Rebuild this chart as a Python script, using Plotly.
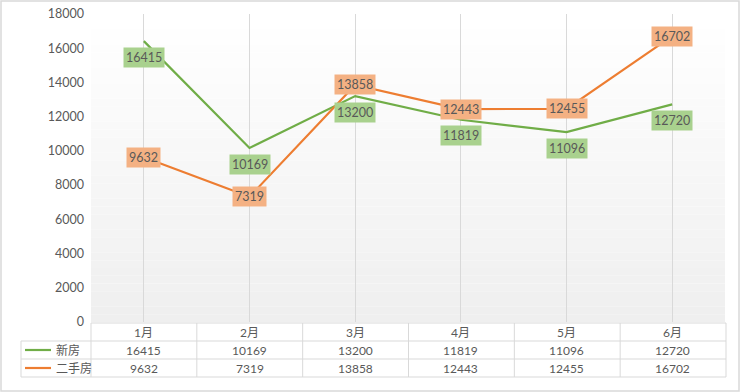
import plotly.graph_objects as go

months = ["1月", "2月", "3月", "4月", "5月", "6月"]
new_house = [16415, 10169, 13200, 11819, 11096, 12720]
second_hand = [9632, 7319, 13858, 12443, 12455, 16702]
series_names = ["新房", "二手房"]
y_ticks = list(range(0, 18001, 2000))

W, H = 740, 392
ML, MR, MT, MB = 91, 15, 14, 70
PW, PH = W - ML - MR, H - MT - MB

def px_x(px):
    return (px - ML) / PW

def px_y(py):
    return (H - MB - py) / PH

FONT = "Lato, 'Noto Sans CJK SC', sans-serif"
TXT = "#595959"
GREEN, ORANGE = "#70AD47", "#ED7D31"
GREEN_BG, ORANGE_BG = "#A9D18E", "#F4B183"
GRID = "#D9D9D9"

fig = go.Figure()
fig.add_trace(go.Scatter(x=months, y=new_house, mode="lines", line=dict(color=GREEN, width=2.2),
                         name=series_names[0], showlegend=False, hoverinfo="skip"))
fig.add_trace(go.Scatter(x=months, y=second_hand, mode="lines", line=dict(color=ORANGE, width=2.2),
                         name=series_names[1], showlegend=False, hoverinfo="skip"))

shapes = []
N = 40
for i in range(N):
    t = i / (N - 1)
    c = int(round(255 - t * (255 - 239)))
    shapes.append(dict(type="rect", xref="paper", yref="paper", x0=0, x1=1,
                       y0=1 - (i + 1) / N, y1=1 - i / N, line=dict(width=0),
                       fillcolor=f"rgb({c},{c},{c})", layer="below"))
shapes.append(dict(type="rect", xref="paper", yref="paper", x0=px_x(1), x1=px_x(739),
                   y0=px_y(391), y1=px_y(1), line=dict(color="#D9D9D9", width=1.5)))

row_lines = [323, 341, 359, 377]
left_px, legend_px, right_px = 21, 91, 726
n = len(months)
shapes.append(dict(type="line", xref="paper", yref="paper", x0=px_x(legend_px), x1=px_x(right_px),
                   y0=px_y(row_lines[0]), y1=px_y(row_lines[0]), line=dict(color=GRID, width=1)))
for r in row_lines[1:]:
    shapes.append(dict(type="line", xref="paper", yref="paper", x0=px_x(left_px), x1=px_x(right_px),
                       y0=px_y(r), y1=px_y(r), line=dict(color=GRID, width=1)))
shapes.append(dict(type="line", xref="paper", yref="paper", x0=px_x(left_px), x1=px_x(left_px),
                   y0=px_y(row_lines[1]), y1=px_y(row_lines[3]), line=dict(color=GRID, width=1)))
for i in range(n + 1):
    xp = px_x(legend_px) + i * (px_x(right_px) - px_x(legend_px)) / n
    shapes.append(dict(type="line", xref="paper", yref="paper", x0=xp, x1=xp,
                       y0=px_y(row_lines[0]), y1=px_y(row_lines[3]), line=dict(color=GRID, width=1)))
for k, col in enumerate([GREEN, ORANGE]):
    yc = px_y((row_lines[k + 1] + row_lines[k + 2]) / 2)
    shapes.append(dict(type="line", xref="paper", yref="paper", x0=px_x(25), x1=px_x(51),
                       y0=yc, y1=yc, line=dict(color=col, width=2.2)))

annotations = []
for m, v in zip(months, new_house):
    annotations.append(dict(x=m, y=v, xref="x", yref="y", text=str(v), showarrow=False,
                            yshift=-16, bgcolor=GREEN_BG, borderpad=2,
                            xanchor="center", yanchor="middle",
                            font=dict(family=FONT, size=12.5, color=TXT)))
for m, v in zip(months, second_hand):
    annotations.append(dict(x=m, y=v, xref="x", yref="y", text=str(v), showarrow=False,
                            yshift=0, bgcolor=ORANGE_BG, borderpad=2,
                            xanchor="center", yanchor="middle",
                            font=dict(family=FONT, size=12.5, color=TXT)))
rows = [months, new_house, second_hand]
for k, row in enumerate(rows):
    yc = px_y((row_lines[k] + row_lines[k + 1]) / 2)
    for m, v in zip(months, row):
        annotations.append(dict(x=m, y=yc, xref="x", yref="paper", text=str(v), showarrow=False,
                                xanchor="center", yanchor="middle",
                                font=dict(family=FONT, size=12, color=TXT)))
for k, name in enumerate(series_names):
    yc = px_y((row_lines[k + 1] + row_lines[k + 2]) / 2)
    annotations.append(dict(x=px_x(54), y=yc, xref="paper", yref="paper", text=name, showarrow=False,
                            xanchor="left", yanchor="middle", font=dict(family=FONT, size=12, color=TXT)))

fig.update_layout(
    width=W, height=H, margin=dict(l=ML, r=MR, t=MT, b=MB, autoexpand=False),
    paper_bgcolor="white", plot_bgcolor="rgba(0,0,0,0)",
    shapes=shapes, annotations=annotations, showlegend=False,
    font=dict(family=FONT, color=TXT),
    xaxis=dict(type="category", range=[-0.5, n - 0.5], showticklabels=False, showgrid=True,
               gridcolor=GRID, gridwidth=1, zeroline=False, showline=False, ticks="", automargin=False),
    yaxis=dict(range=[0, 18000], tickvals=y_ticks, tickformat="d", showgrid=False, zeroline=False,
               showline=False, tickfont=dict(family=FONT, size=12.5, color=TXT), ticklabelstandoff=6,
               automargin=False),
)

fig.write_html("out.html", config={"displayModeBar": False},
               post_script="document.body.style.margin='0';document.body.style.overflow='hidden';")
